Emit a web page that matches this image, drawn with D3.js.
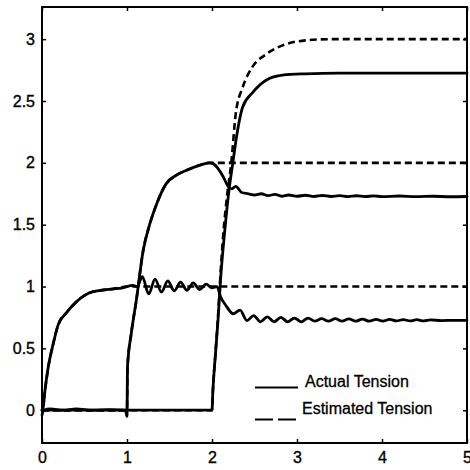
<!DOCTYPE html>
<html>
<head>
<meta charset="utf-8">
<script src="https://cdn.jsdelivr.net/npm/d3@7"></script>
<style>
  html, body { margin: 0; padding: 0; background: #fff; }
  svg { display: block; }
  text { font-family: "Liberation Sans", Arial, sans-serif; fill: #000; }
</style>
</head>
<body>
<svg id="chart" width="470" height="470"></svg>
<script>
// Tick values
const xTicks = [0, 1, 2, 3, 4, 5];
const yTicks = [0, 0.5, 1, 1.5, 2, 2.5, 3];

// Legend labels
const legendLabels = ["Actual Tension", "Estimated Tension"];

// Actual tension, segment 1 ([time, tension])
const actual1 = [
  [0, 0], [0.016, 0.03], [0.035, 0.16], [0.074, 0.35], [0.133, 0.54], [0.19, 0.69],
  [0.29, 0.79], [0.41, 0.88], [0.56, 0.95], [0.7, 0.97], [0.83, 0.98], [0.95, 0.99],
  [1.07, 1.01], [1.12, 1.0], [1.18, 1.08], [1.255, 0.94], [1.33, 1.06], [1.405, 0.955],
  [1.48, 1.045], [1.555, 0.965], [1.63, 1.035], [1.705, 0.97], [1.78, 1.03], [1.855, 0.975],
  [1.93, 1.02], [2.0, 0.99], [2.06, 1.0], [2.10, 0.92], [2.17, 0.84], [2.25, 0.78],
  [2.33, 0.81], [2.41, 0.725], [2.49, 0.765], [2.57, 0.715], [2.65, 0.755], [2.73, 0.715],
  [2.81, 0.75], [2.89, 0.715], [2.97, 0.745], [3.05, 0.715], [3.13, 0.745], [3.21, 0.72],
  [3.29, 0.74], [3.37, 0.72], [3.45, 0.74], [3.53, 0.72], [3.61, 0.738], [3.69, 0.72],
  [3.77, 0.737], [3.85, 0.72], [3.93, 0.735], [4.01, 0.72], [4.09, 0.735], [4.17, 0.722],
  [4.25, 0.733], [4.33, 0.722], [4.41, 0.732], [4.49, 0.722], [4.57, 0.73], [4.7, 0.725],
  [4.85, 0.727], [5.0, 0.727]
];

// Actual tension, segment 2
const actual2 = [
  [0, -0.04], [0.02, 0.0], [0.1, 0.01], [0.25, 0.0], [0.4, 0.01], [0.6, 0.0], [0.8, 0.005],
  [0.98, 0.0], [1.0, -0.05], [1.006, 0.35], [1.05, 0.62], [1.11, 0.89], [1.19, 1.29],
  [1.27, 1.51], [1.35, 1.67], [1.46, 1.83], [1.58, 1.9], [1.70, 1.94], [1.85, 1.98],
  [1.97, 2.0], [2.02, 1.99], [2.13, 1.89], [2.19, 1.81], [2.23, 1.79], [2.28, 1.81],
  [2.35, 1.76], [2.43, 1.75], [2.5, 1.74], [2.58, 1.75], [2.66, 1.735], [2.74, 1.745],
  [2.82, 1.73], [2.9, 1.74], [3.0, 1.73], [3.1, 1.738], [3.2, 1.728], [3.3, 1.736],
  [3.4, 1.728], [3.5, 1.735], [3.6, 1.727], [3.7, 1.734], [3.8, 1.727], [3.9, 1.733],
  [4.0, 1.727], [4.2, 1.732], [4.4, 1.727], [4.6, 1.73], [4.8, 1.726], [5.0, 1.728]
];

// Actual tension, segment 3
const actual3 = [
  [0, 0], [1.0, 0], [2.0, 0], [2.01, 0.15], [2.04, 0.45], [2.07, 0.72], [2.10, 1.05],
  [2.15, 1.45], [2.2, 1.78], [2.245, 2.0], [2.30, 2.26], [2.36, 2.45], [2.48, 2.57],
  [2.64, 2.67], [2.83, 2.71], [3.1, 2.72], [3.5, 2.725], [4.0, 2.725], [5.0, 2.725]
];

// Estimated tension, segments 1-3
const estimated1 = [
  [0, 0], [0.035, 0.16], [0.074, 0.35], [0.133, 0.54], [0.19, 0.69], [0.29, 0.79],
  [0.41, 0.88], [0.56, 0.95], [0.7, 0.97], [0.83, 0.98], [1.0, 1.0], [2.0, 1.0], [5.0, 1.0]
];
const estimated2 = [
  [0, 0], [1.0, 0], [1.006, 0.35], [1.05, 0.62], [1.11, 0.89], [1.19, 1.29], [1.27, 1.51],
  [1.35, 1.67], [1.46, 1.83], [1.58, 1.9], [1.70, 1.94], [1.85, 1.98], [1.97, 2.0], [5.0, 2.0]
];
const estimated3 = [
  [0, 0], [2.0, 0], [2.01, 0.15], [2.04, 0.45], [2.07, 0.75], [2.10, 1.1], [2.13, 1.4],
  [2.18, 1.75], [2.227, 2.0], [2.28, 2.40], [2.36, 2.61], [2.48, 2.78], [2.64, 2.88],
  [2.83, 2.95], [3.1, 2.99], [3.4, 3.0], [5.0, 3.0]
];

const svg = d3.select("#chart");
const W = 470, H = 470;
const mLeft = 42, mRight = 467, mTop = 7, mBottom = 443;

svg.append("rect").attr("width", W).attr("height", H).attr("fill", "#fff");

const x = d3.scaleLinear().domain([0, 5]).range([mLeft, mRight]);
const y = d3.scaleLinear().domain([-0.265, 3.26]).range([mBottom, mTop]);

// Axes with inward ticks on all four sides
const fmt = d => String(d);
const axB = svg.append("g").attr("transform", `translate(0,${mBottom})`)
  .call(d3.axisBottom(x).tickValues(xTicks).tickFormat(fmt).tickSize(-4).tickPadding(9));
const axL = svg.append("g").attr("transform", `translate(${mLeft},0)`)
  .call(d3.axisLeft(y).tickValues(yTicks).tickFormat(fmt).tickSize(-4).tickPadding(7));
const axT = svg.append("g").attr("transform", `translate(0,${mTop})`)
  .call(d3.axisTop(x).tickValues(xTicks).tickFormat("").tickSize(-4));
const axR = svg.append("g").attr("transform", `translate(${mRight},0)`)
  .call(d3.axisRight(y).tickValues(yTicks).tickFormat("").tickSize(-4));

[axB, axL, axT, axR].forEach(g => {
  g.select(".domain").remove();
  g.selectAll(".tick line").attr("stroke", "#000").attr("stroke-width", 1.5);
  g.selectAll(".tick text").attr("font-size", 16).attr("fill", "#000")
    .attr("stroke", "#000").attr("stroke-width", 0.35)
    .attr("font-family", "'Liberation Sans', Arial, sans-serif");
});

// Plot frame
svg.append("rect")
  .attr("x", mLeft).attr("y", mTop)
  .attr("width", mRight - mLeft).attr("height", mBottom - mTop)
  .attr("fill", "none").attr("stroke", "#000").attr("stroke-width", 2);

const line = d3.line()
  .x(d => x(d[0])).y(d => y(d[1]))
  .curve(d3.curveMonotoneX);

const plot = svg.append("g");

// Estimated (dashed) first, actual (solid) on top
[estimated1, estimated2, estimated3].forEach(s => {
  plot.append("path").attr("d", line(s))
    .attr("fill", "none").attr("stroke", "#000").attr("stroke-width", 2.6)
    .attr("stroke-dasharray", "7,4").attr("stroke-linejoin", "round");
});
[actual1, actual2, actual3].forEach(s => {
  plot.append("path").attr("d", line(s))
    .attr("fill", "none").attr("stroke", "#000").attr("stroke-width", 2.8)
    .attr("stroke-linejoin", "round").attr("stroke-linecap", "round");
});

// Legend
const lg = svg.append("g");
lg.append("line").attr("x1", 255).attr("x2", 298).attr("y1", 387.5).attr("y2", 387.5)
  .attr("stroke", "#000").attr("stroke-width", 1.8);
lg.append("text").attr("x", 305).attr("y", 387).attr("font-size", 16)
  .attr("stroke", "#000").attr("stroke-width", 0.3).text(legendLabels[0]);
lg.append("line").attr("x1", 255).attr("x2", 297).attr("y1", 419.5).attr("y2", 419.5)
  .attr("stroke", "#000").attr("stroke-width", 1.8).attr("stroke-dasharray", "18,5");
lg.append("text").attr("x", 302).attr("y", 414).attr("font-size", 16)
  .attr("stroke", "#000").attr("stroke-width", 0.3).text(legendLabels[1]);
</script>
</body>
</html>
